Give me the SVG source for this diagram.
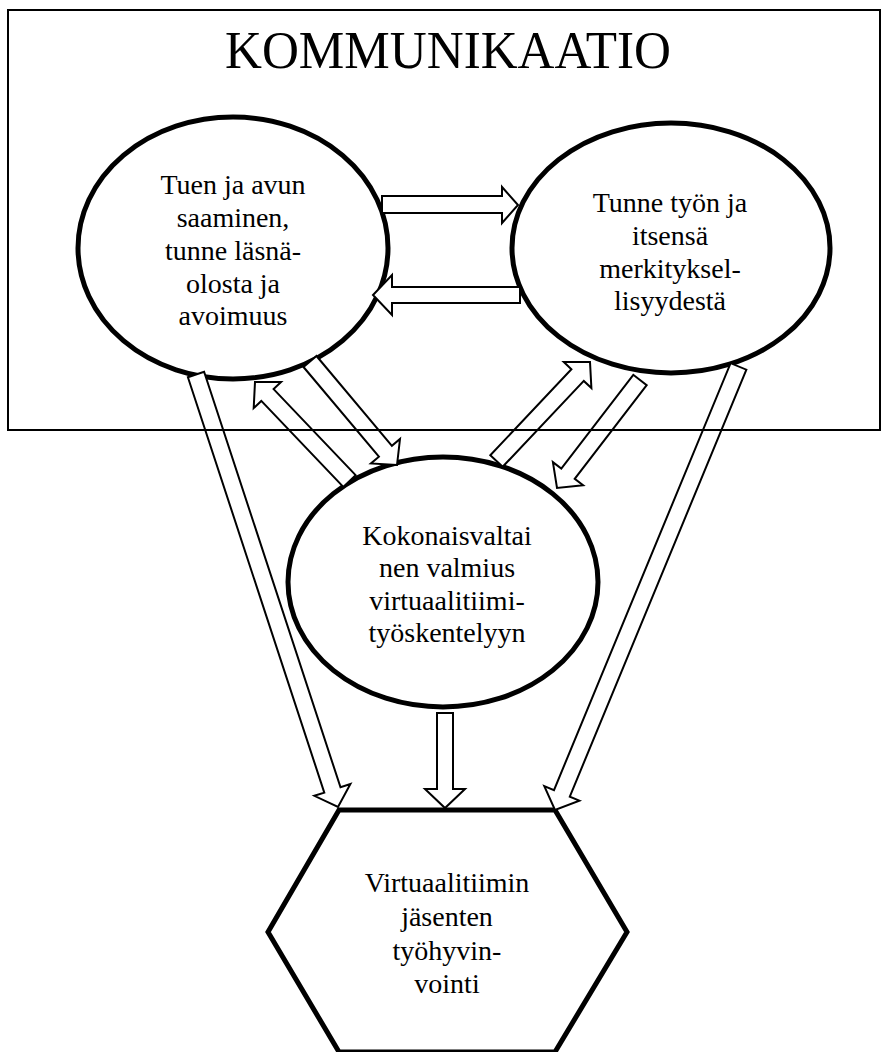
<svg xmlns="http://www.w3.org/2000/svg" width="881" height="1052" viewBox="0 0 881 1052">
<style>
.node{fill:#fff;stroke:#000;stroke-width:5}
.arrow{fill:#fff;stroke:#000;stroke-width:2;stroke-linejoin:miter}
.frame{fill:none;stroke:#000;stroke-width:2}
.lbl{font-family:'Liberation Serif','DejaVu Serif',serif;font-size:28px;fill:#000;text-anchor:middle}
.title{font-family:'Liberation Serif','DejaVu Serif',serif;font-size:52px;fill:#000;text-anchor:middle}
</style>
<rect width="881" height="1052" fill="#fff"/>
<g id="node-tuki">
<ellipse class="node" cx="233" cy="248" rx="155" ry="131"/>
<text class="lbl" x="233" y="194">Tuen ja avun</text>
<text class="lbl" x="233" y="227">saaminen,</text>
<text class="lbl" x="233" y="260">tunne läsnä-</text>
<text class="lbl" x="233" y="293">olosta ja</text>
<text class="lbl" x="233" y="325">avoimuus</text>
</g>
<g id="node-merkitys">
<ellipse class="node" cx="671" cy="248" rx="159" ry="125"/>
<text class="lbl" x="670" y="212">Tunne työn ja</text>
<text class="lbl" x="670" y="245">itsensä</text>
<text class="lbl" x="670" y="278">merkityksel-</text>
<text class="lbl" x="670" y="310">lisyydestä</text>
</g>
<g id="node-valmius">
<ellipse class="node" cx="443" cy="582" rx="155" ry="125"/>
<text class="lbl" x="447" y="545">Kokonaisvaltai</text>
<text class="lbl" x="447" y="577">nen valmius</text>
<text class="lbl" x="447" y="610">virtuaalitiimi-</text>
<text class="lbl" x="447" y="642">työskentelyyn</text>
</g>
<g id="node-tyohyvinvointi">
<polygon class="node" points="339,810 555,810 627,932 555,1052 339,1052 268,932"/>
<text class="lbl" x="447" y="892">Virtuaalitiimin</text>
<text class="lbl" x="447" y="926">jäsenten</text>
<text class="lbl" x="447" y="960">työhyvin-</text>
<text class="lbl" x="447" y="993">vointi</text>
</g>
<g id="connectors">
<polygon class="arrow" points="382,196 502,196 502,187 518,205 502,223 502,213 382,213"/>
<polygon class="arrow" points="520,287 392,287 392,275 373,295 392,315 392,303 520,303"/>
<polygon class="arrow" points="316.5,356 391.9,445.8 400,439 397,465 370.9,463.4 378.9,456.7 303.5,367"/>
<polygon class="arrow" points="355.6,475.1 273.6,389.1 281.1,381.9 255,382 253.7,408.1 261.3,400.9 343.3,486.9"/>
<polygon class="arrow" points="502.7,466.8 583.8,380.9 591.4,388.1 590,362 563.8,362.1 571.4,369.3 490.3,455.2"/>
<polygon class="arrow" points="646.7,385.2 574.7,478.9 583.1,485.3 557,488 552.9,462.1 561.3,468.5 633.3,374.8"/>
<polygon class="arrow" points="204.1,371.8 340.5,787.3 350.4,784 338,807 314.3,795.8 324.3,792.6 187.9,377.2"/>
<polygon class="arrow" points="746.4,369.7 569.8,796.6 579.4,800.6 555,810 544.3,786.1 554,790.1 730.6,363.2"/>
<polygon class="arrow" points="437,713 437,789 425,789 445,808 465,789 453,789 453,713"/>
</g>
<g id="frame-kommunikaatio">
<path class="frame" d="M881,10 H8 V430 H881"/>
<line class="frame" x1="880" y1="10" x2="880" y2="430"/>
<text class="title" x="448" y="68" textLength="446" lengthAdjust="spacingAndGlyphs">KOMMUNIKAATIO</text>
</g>
</svg>
